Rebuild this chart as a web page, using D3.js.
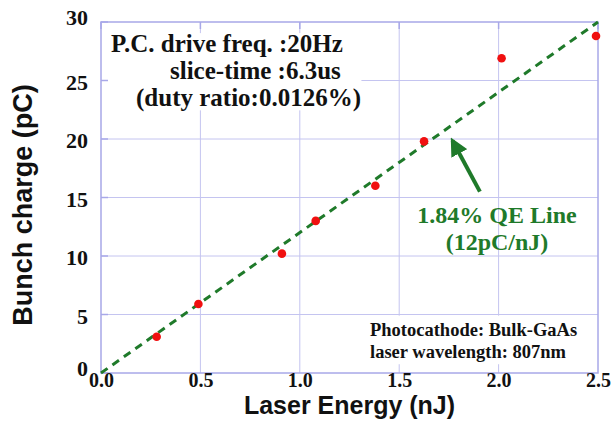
<!DOCTYPE html>
<html>
<head>
<meta charset="utf-8">
<script src="https://cdn.jsdelivr.net/npm/d3@7"></script>
<style>
  body { margin: 0; background: #fff; }
  svg { display: block; }
</style>
</head>
<body>
<svg id="svg" width="615" height="421"></svg>
<script>
const $svg = d3.select('#svg')

// measured points
const energy = [0.28, 0.49, 0.91, 1.08, 1.38, 1.625, 2.015, 2.49]
const charge = [3.1, 5.9, 10.2, 13.0, 16.0, 19.8, 26.9, 28.8]
const qeLine = [[0, 0], [2.5, 30]]
const xTicks = [0, 0.5, 1.0, 1.5, 2.0, 2.5]
const yTicks = [0, 5, 10, 15, 20, 25, 30]
const infoLines = ['P.C. drive freq. :20Hz', 'slice-time :6.3us', '(duty ratio:0.0126%)']
const qeLabel = ['1.84% QE Line', '(12pC/nJ)']
const cathodeLines = ['Photocathode: Bulk-GaAs', 'laser wavelength: 807nm']

const margin = { left: 101, right: 17, top: 22, bottom: 48 }
const W = 615, H = 421
const x = d3.scaleLinear().domain([0, 2.5]).range([margin.left, W - margin.right])
const y = d3.scaleLinear().domain([0, 30]).range([H - margin.bottom, margin.top])

const serif = '"Liberation Serif", "Times New Roman", serif'
const sans = '"Liberation Sans", Arial, sans-serif'
const gridColor = '#c4c4f0'
const frameColor = '#a8a8e8'
const green = '#1f7a2a'

// grid
$svg.append('g')
  .selectAll('line')
  .data(xTicks.slice(1, -1))
  .join('line')
  .attr('x1', d => x(d)).attr('x2', d => x(d))
  .attr('y1', y(0)).attr('y2', y(30))
  .attr('stroke', gridColor).attr('stroke-width', 1)

$svg.append('g')
  .selectAll('line')
  .data(yTicks.slice(1, -1))
  .join('line')
  .attr('x1', x(0)).attr('x2', x(2.5))
  .attr('y1', d => y(d)).attr('y2', d => y(d))
  .attr('stroke', gridColor).attr('stroke-width', 1)

// white boxes behind annotation text
const boxes = [
  [0.02, 29.05, 1.31, 22.45],
  [1.32, 4.9, 2.47, 0.75]
]
$svg.append('g')
  .selectAll('rect')
  .data(boxes)
  .join('rect')
  .attr('x', d => x(d[0])).attr('y', d => y(d[1]))
  .attr('width', d => x(d[2]) - x(d[0]))
  .attr('height', d => y(d[3]) - y(d[1]))
  .attr('fill', '#fff')

// frame
$svg.append('rect')
  .attr('x', x(0)).attr('y', y(30))
  .attr('width', x(2.5) - x(0)).attr('height', y(0) - y(30))
  .attr('fill', 'none').attr('stroke', frameColor).attr('stroke-width', 1.5)

// inner ticks
const tickLen = 7
$svg.append('g').selectAll('line')
  .data(yTicks)
  .join('line')
  .attr('x1', x(0)).attr('x2', x(0) + tickLen)
  .attr('y1', d => y(d)).attr('y2', d => y(d))
  .attr('stroke', frameColor).attr('stroke-width', 1.5)
$svg.append('g').selectAll('line')
  .data(xTicks)
  .join('line')
  .attr('x1', d => x(d)).attr('x2', d => x(d))
  .attr('y1', y(30)).attr('y2', y(30) + tickLen)
  .attr('stroke', frameColor).attr('stroke-width', 1.5)

// tick labels
const xAxis = d3.axisBottom(x).tickValues(xTicks).tickFormat(d3.format('.1f')).tickSize(0).tickPadding(0)
$svg.append('g')
  .attr('transform', `translate(0,${y(0)})`)
  .call(xAxis)
  .call(g => g.select('.domain').remove())
  .selectAll('text')
  .attr('font-family', serif).attr('font-weight', 'bold').attr('font-size', 20).attr('fill', '#111')

const yAxis = d3.axisLeft(y).tickValues(yTicks).tickSize(0).tickPadding(13)
$svg.append('g')
  .attr('transform', `translate(${x(0)},0)`)
  .call(yAxis)
  .call(g => g.select('.domain').remove())
  .selectAll('text')
  .attr('font-family', serif).attr('font-weight', 'bold').attr('font-size', 22).attr('fill', '#111')
  .attr('dy', d => d === 0 ? '0.1em' : d === 30 ? '0.12em' : '0.4em')

// QE line
$svg.append('path')
  .attr('d', d3.line().x(d => x(d[0])).y(d => y(d[1]))(qeLine))
  .attr('fill', 'none').attr('stroke', green).attr('stroke-width', 3)
  .attr('stroke-dasharray', '8,6')

// points
$svg.append('g')
  .selectAll('circle')
  .data(energy.map((e, i) => [e, charge[i]]))
  .join('circle')
  .attr('cx', d => x(d[0])).attr('cy', d => y(d[1]))
  .attr('r', 4.3).attr('fill', '#f01010')

// arrow
const defs = $svg.append('defs')
defs.append('marker')
  .attr('id', 'head').attr('viewBox', '0 0 10 10')
  .attr('refX', 8).attr('refY', 5)
  .attr('markerWidth', 4.5).attr('markerHeight', 4.5)
  .attr('orient', 'auto')
  .append('path').attr('d', 'M0,0 L10,5 L0,10 Z').attr('fill', green)

$svg.append('line')
  .attr('x1', x(1.906)).attr('y1', y(15.5))
  .attr('x2', x(1.768)).attr('y2', y(19.85))
  .attr('stroke', green).attr('stroke-width', 4)
  .attr('marker-end', 'url(#head)')

// annotation text
$svg.append('g')
  .selectAll('text')
  .data(infoLines)
  .join('text')
  .attr('x', (d, i) => [111, 170, 136][i])
  .attr('y', (d, i) => 52 + i * 27)
  .attr('font-family', serif).attr('font-weight', 'bold').attr('font-size', 25)
  .attr('fill', '#111')
  .text(d => d)

$svg.append('g')
  .selectAll('text')
  .data(qeLabel)
  .join('text')
  .attr('x', 497)
  .attr('y', (d, i) => 223 + i * 27)
  .attr('text-anchor', 'middle')
  .attr('font-family', serif).attr('font-weight', 'bold').attr('font-size', 24)
  .attr('fill', green)
  .text(d => d)

$svg.append('g')
  .selectAll('text')
  .data(cathodeLines)
  .join('text')
  .attr('x', 370)
  .attr('y', (d, i) => 336 + i * 22)
  .attr('font-family', serif).attr('font-weight', 'bold').attr('font-size', 18.5)
  .attr('fill', '#111')
  .text(d => d)

// axis titles
$svg.append('text')
  .attr('x', (x(0) + x(2.5)) / 2).attr('y', 414)
  .attr('text-anchor', 'middle')
  .attr('font-family', sans).attr('font-weight', 'bold').attr('font-size', 25)
  .attr('fill', '#111')
  .text('Laser Energy (nJ)')

$svg.append('text')
  .attr('transform', `translate(32,205) rotate(-90)`)
  .attr('text-anchor', 'middle')
  .attr('font-family', sans).attr('font-weight', 'bold').attr('font-size', 27)
  .attr('fill', '#111')
  .text('Bunch charge (pC)')
</script>
</body>
</html>
